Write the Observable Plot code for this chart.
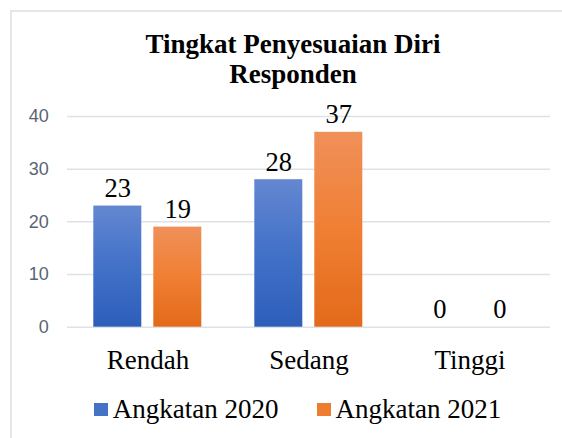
<!DOCTYPE html>
<html>
<head>
<meta charset="utf-8">
<script src="https://cdn.jsdelivr.net/npm/d3@7"></script>
<script src="https://cdn.jsdelivr.net/npm/@observablehq/plot@0.6"></script>
<style>
  html, body { margin: 0; padding: 0; background: #fff; }
  #wrap { position: relative; width: 562px; height: 438px; overflow: hidden; background: #fff; }
  #frame { position: absolute; left: 10px; top: 10px; width: 600px; height: 500px;
           border-left: 2px solid #e3e7ec; border-top: 2px solid #e3e7ec; }
  #title { position: absolute; left: 0; top: 29px; width: 586px; text-align: center;
           font: bold 27px/30px "Liberation Serif", "Times New Roman", serif; color: #000; }
  #chart { position: absolute; left: 0; top: 0; }
  #chart svg [aria-label^="y-axis"] text { font: 18px "Liberation Sans", Arial, sans-serif; fill: #5a6473; }
  #chart svg [aria-label^="fx-axis"] text { font: 27px "Liberation Serif", "Times New Roman", serif; fill: #000; }
  #legend { position: absolute; left: 0; top: 394px; width: 595px; display: flex; justify-content: center;
            align-items: center; font: 27px/30px "Liberation Serif", "Times New Roman", serif; color: #000; }
  .item { display: flex; align-items: center; }
  .item + .item { margin-left: 38px; }
  .sw { width: 14px; height: 13px; margin-right: 5px; }
</style>
</head>
<body>
<div id="wrap">
  <svg width="0" height="0" style="position:absolute">
    <defs>
      <linearGradient id="gBlue" x1="0" y1="0" x2="0" y2="1">
        <stop offset="0" stop-color="#6487d1"/>
        <stop offset="0.5" stop-color="#4271c8"/>
        <stop offset="1" stop-color="#2d5eba"/>
      </linearGradient>
      <linearGradient id="gOrange" x1="0" y1="0" x2="0" y2="1">
        <stop offset="0" stop-color="#f0905a"/>
        <stop offset="0.5" stop-color="#f07f33"/>
        <stop offset="1" stop-color="#e36a1a"/>
      </linearGradient>
    </defs>
  </svg>
  <div id="frame"></div>
  <div id="chart"></div>
  <div id="title">Tingkat Penyesuaian Diri<br>Responden</div>
  <div id="legend"></div>
</div>
<script>
const categories = ["Rendah", "Sedang", "Tinggi"];
const series = ["Angkatan 2020", "Angkatan 2021"];
const values2020 = [23, 28, 0];
const values2021 = [19, 37, 0];
const yTicks = [0, 10, 20, 30, 40];
const seriesFills = ["url(#gBlue)", "url(#gOrange)"];
const legendColors = ["#4472c4", "#ed7d31"];

const rows = [];
categories.forEach((c, i) => {
  rows.push({category: c, series: series[0], value: values2020[i]});
  rows.push({category: c, series: series[1], value: values2021[i]});
});

const chart = Plot.plot({
  width: 562,
  height: 380,
  marginTop: 116,
  marginBottom: 53.3,
  marginLeft: 66.7,
  marginRight: 12,
  facet: {data: rows, x: "category", marginTop: 0, marginBottom: 0, marginLeft: 0, marginRight: 0},
  fx: {domain: categories, padding: 0, axis: "bottom", label: null, tickSize: 0, tickPadding: 23},
  x: {domain: series, axis: null, paddingInner: 0.197, paddingOuter: 0.419},
  y: {domain: [0, 40], ticks: yTicks, label: null, tickSize: 0, tickPadding: 18.7},
  color: {domain: series, range: seriesFills},
  marks: [
    Plot.ruleY(yTicks, {stroke: "#dde2e8", strokeWidth: 1.5}),
    Plot.barY(rows, {x: "series", y: "value", fill: "series"}),
    Plot.text(rows, {x: "series", y: "value", text: d => String(d.value), dy: -9, lineAnchor: "bottom",
                     fontSize: 26.5, fontFamily: "Liberation Serif", fill: "#000"})
  ]
});
document.getElementById("chart").appendChild(chart);

const legend = document.getElementById("legend");
series.forEach((s, i) => {
  const item = document.createElement("div");
  item.className = "item";
  const sw = document.createElement("div");
  sw.className = "sw";
  sw.style.background = legendColors[i];
  const t = document.createElement("span");
  t.textContent = s;
  item.appendChild(sw);
  item.appendChild(t);
  legend.appendChild(item);
});
</script>
</body>
</html>
